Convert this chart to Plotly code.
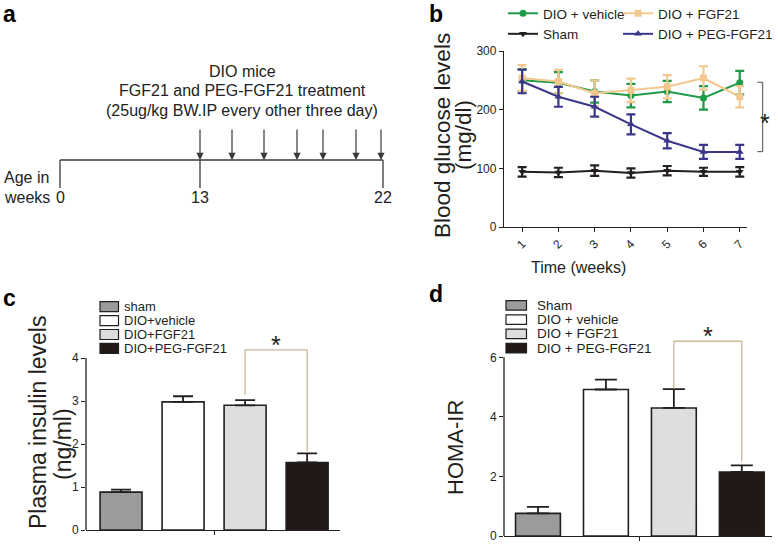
import plotly.graph_objects as go

FONT = "Liberation Sans, Arial, sans-serif"
INK = "#231f20"
W, H = 778, 547

# ---------------- Panel a: treatment schedule ----------------
timeline_labels = ["0", "13", "22"]
timeline_pos = [0, 140, 323]                      # schematic positions on the timeline
injection_pos = [140, 172, 204, 237, 263, 296, 321]
schedule_text = ["DIO mice", "FGF21 and PEG-FGF21 treatment",
                 "(25ug/kg BW.IP every other three day)"]

# ---------------- Panel b: blood glucose ----------------
weeks = [1, 2, 3, 4, 5, 6, 7]
vehicle = [250, 246, 231, 224, 231, 220, 246]
vehicle_err = [19, 18, 19, 20, 18, 20, 20]
fgf21 = [254, 248, 228, 233, 239, 254, 222]
fgf21_err = [22, 20, 22, 20, 20, 20, 18]
peg = [248, 222, 205, 175, 147, 128, 128]
peg_err = [20, 17, 17, 17, 13, 12, 12]
sham = [94, 93, 96, 92, 96, 94, 94]
sham_err = [8, 8, 9, 8, 8, 7, 8]

# ---------------- Panel c: plasma insulin ----------------
insulin_groups = ["sham", "DIO+vehicle", "DIO+FGF21", "DIO+PEG-FGF21"]
insulin = [0.88, 2.98, 2.90, 1.57]
insulin_err = [0.06, 0.13, 0.12, 0.21]

# ---------------- Panel d: HOMA-IR ----------------
homa_groups = ["Sham", "DIO + vehicle", "DIO + FGF21", "DIO + PEG-FGF21"]
homa = [0.76, 4.92, 4.30, 2.15]
homa_err = [0.22, 0.33, 0.63, 0.22]

bar_colors = ["#9b9b9b", "#ffffff", "#dedede", "#221816"]
line_colors = {"vehicle": "#1f9a48", "fgf21": "#f2c88e", "peg": "#3b3689", "sham": INK}
bracket_tan = "#c9b99b"


def px(p):
    return p / W


def py(p):
    return 1 - p / H


fig = go.Figure()

# ---- panel a traces (axes x / y, schematic units) ----
fig.add_trace(go.Scatter(x=[min(timeline_pos), max(timeline_pos)], y=[0, 0], mode="lines",
                         line=dict(color="#3a3a3a", width=1.3), showlegend=False,
                         hoverinfo="skip", xaxis="x", yaxis="y"))
tx, ty = [], []
for p in timeline_pos:
    tx += [p, p, None]
    ty += [0, -28, None]
fig.add_trace(go.Scatter(x=tx, y=ty, mode="lines", line=dict(color="#3a3a3a", width=1.3),
                         showlegend=False, hoverinfo="skip", xaxis="x", yaxis="y"))

annotations = []
for p in injection_pos:
    annotations.append(dict(x=p, y=0, ax=p, ay=32, xref="x", yref="y", axref="x", ayref="y",
                            showarrow=True, arrowhead=2, arrowsize=1.2, arrowwidth=1.2,
                            arrowcolor="#3a3a3a", text=""))
for lab, p in zip(timeline_labels, timeline_pos):
    annotations.append(dict(x=p, y=-37, xref="x", yref="y", text=lab, showarrow=False,
                            font=dict(size=16, color="#222", family=FONT)))
annotations.append(dict(x=-58, y=-17, xref="x", yref="y", text="Age in", showarrow=False,
                        xanchor="left", font=dict(size=16, color="#222", family=FONT)))
annotations.append(dict(x=-58, y=-37, xref="x", yref="y", text="weeks", showarrow=False,
                        xanchor="left", font=dict(size=16, color="#222", family=FONT)))
for i, t in enumerate(schedule_text):
    annotations.append(dict(x=182, y=89 - 19.5 * i, xref="x", yref="y", text=t, showarrow=False,
                            font=dict(size=16, color="#222", family=FONT)))

# ---- panel b traces ----
series = [
    ("DIO + vehicle", vehicle, vehicle_err, line_colors["vehicle"], "circle", "legend"),
    ("DIO + FGF21", fgf21, fgf21_err, line_colors["fgf21"], "square", "legend2"),
    ("DIO + PEG-FGF21", peg, peg_err, line_colors["peg"], "triangle-up", "legend2"),
    ("Sham", sham, sham_err, line_colors["sham"], "triangle-down", "legend"),
]
for name, vals, errs, col, sym, leg in series:
    fig.add_trace(go.Scatter(
        x=weeks, y=vals, name=name, mode="lines+markers",
        line=dict(color=col, width=2), marker=dict(symbol=sym, size=7, color=col),
        error_y=dict(type="data", array=errs, color=col, thickness=2.2, width=4.5),
        xaxis="x2", yaxis="y2", legend=leg))

shapes = []
# significance bracket panel b
shapes.append(dict(type="path", xref="x2 domain", yref="y2",
                   path="M1.0424,246.8 L1.0646,246.8 L1.0646,128.4 L1.0424,128.4",
                   line=dict(color="#4a4a4a", width=1)))
annotations.append(dict(x=1.1016, y=177, xref="x2 domain", yref="y2", text="*", showarrow=False,
                        font=dict(size=25, color=INK, family=FONT)))

# ---- panel c bars ----
pos = [0, 1, 2, 3]
fig.add_trace(go.Bar(x=pos, y=insulin, width=0.677, marker=dict(color=bar_colors,
                     line=dict(color=INK, width=1.6)),
                     error_y=dict(type="data", array=insulin_err, arrayminus=[0] * 4,
                                  symmetric=False, color=INK, thickness=1.8, width=10),
                     showlegend=False, xaxis="x3", yaxis="y3"))
fig.add_trace(go.Scatter(x=[2, 2, 3, 3],
                         y=[insulin[2] + insulin_err[2] + 0.12, 4.19, 4.19,
                            insulin[3] + insulin_err[3] + 0.05],
                         mode="lines", line=dict(color=bracket_tan, width=1.3),
                         showlegend=False, hoverinfo="skip", xaxis="x3", yaxis="y3"))
annotations.append(dict(x=2.5, y=4.31, xref="x3", yref="y3", text="*", showarrow=False,
                        font=dict(size=25, color=INK, family=FONT)))

# ---- panel d bars ----
fig.add_trace(go.Bar(x=pos, y=homa, width=0.66, marker=dict(color=bar_colors,
                     line=dict(color=INK, width=1.6)),
                     error_y=dict(type="data", array=homa_err, arrayminus=[0] * 4,
                                  symmetric=False, color=INK, thickness=1.8, width=11),
                     showlegend=False, xaxis="x4", yaxis="y4"))
fig.add_trace(go.Scatter(x=[2, 2, 3, 3],
                         y=[homa[2] + homa_err[2] + 0.02, 6.54, 6.54, homa[3] + homa_err[3] + 0.12],
                         mode="lines", line=dict(color=bracket_tan, width=1.3),
                         showlegend=False, hoverinfo="skip", xaxis="x4", yaxis="y4"))
annotations.append(dict(x=2.5, y=6.72, xref="x4", yref="y4", text="*", showarrow=False,
                        font=dict(size=25, color=INK, family=FONT)))

# y axis lines for c and d (stop at top tick)
shapes.append(dict(type="line", xref="x3 domain", yref="y3", x0=0, x1=0, y0=0, y1=4,
                   line=dict(color=INK, width=1.3)))
shapes.append(dict(type="line", xref="x4 domain", yref="y4", x0=0, x1=0, y0=0, y1=6,
                   line=dict(color=INK, width=1.3)))

# manual compact legends for c and d
def add_box_legend(groups, box_x0, box_x1, text_x, y0, step, bh, fsize):
    for i, g in enumerate(groups):
        yc = y0 + i * step
        shapes.append(dict(type="rect", xref="paper", yref="paper",
                           x0=px(box_x0), x1=px(box_x1), y0=py(yc + bh / 2), y1=py(yc - bh / 2),
                           fillcolor=bar_colors[i], line=dict(color=INK, width=1.2)))
        annotations.append(dict(x=px(text_x), y=py(yc), xref="paper", yref="paper", text=g,
                                showarrow=False, xanchor="left", yanchor="middle",
                                font=dict(size=fsize, color=INK, family=FONT)))


add_box_legend(insulin_groups, 100, 118.5, 122, 306.7, 13.9, 10, 13)
add_box_legend(homa_groups, 506, 526.5, 535, 305.3, 14.3, 9.5, 13.5)

# axis titles
def vtitle(text, x, y, size):
    annotations.append(dict(x=px(x), y=py(y), xref="paper", yref="paper", text=text,
                            textangle=-90, showarrow=False, xanchor="center", yanchor="middle",
                            font=dict(size=size, color=INK, family=FONT)))


vtitle("Blood glucose levels", 442, 135, 22.5)
vtitle("(mg/dl)", 463, 135, 22.5)
vtitle("Plasma insulin levels", 38, 423, 23)
vtitle("(ng/ml)", 63, 444, 23)
vtitle("HOMA-IR", 455, 447, 22)
annotations.append(dict(x=px(628), y=py(267), xref="paper", yref="paper", text="Time (weeks)",
                        showarrow=False, font=dict(size=16, color=INK, family=FONT)))

# panel letters
for letter, x, y in [("a", 1, 14), ("b", 427, 13.5), ("c", 1, 298), ("d", 427, 294)]:
    annotations.append(dict(x=px(x), y=py(y), xref="paper", yref="paper", text="<b>%s</b>" % letter,
                            showarrow=False, xanchor="left", yanchor="middle",
                            font=dict(size=23, color="#000", family=FONT)))

ax_common = dict(showgrid=False, zeroline=False, linecolor=INK, linewidth=1.3,
                 ticks="outside", ticklen=4, tickwidth=1.2, tickcolor=INK,
                 tickfont=dict(size=12, color=INK, family=FONT))

fig.update_layout(
    width=W, height=H, margin=dict(l=0, r=0, t=0, b=0, autoexpand=False),
    paper_bgcolor="white", plot_bgcolor="rgba(0,0,0,0)",
    font=dict(family=FONT, color=INK),
    xaxis=dict(domain=[0, 0.5], range=[-60, 329], visible=False, anchor="y"),
    yaxis=dict(domain=[py(246), 1], range=[-86, 160], visible=False, anchor="x"),
    xaxis2=dict(domain=[px(504), px(747)], range=[0.5, 7.2], tickvals=weeks, tickangle=-45,
                showline=True, anchor="y2", **ax_common),
    yaxis2=dict(domain=[py(227), py(51)], range=[0, 300], tickvals=[0, 100, 200, 300],
                showline=True, anchor="x2", **ax_common),
    xaxis3=dict(domain=[px(86), px(340)], range=[-0.565, 3.53], tickvals=[1.5], ticktext=[""],
                showline=True, anchor="y3", **ax_common),
    yaxis3=dict(domain=[py(530), py(530 - 4.45 * 43)], range=[0, 4.45], tickvals=[0, 1, 2, 3, 4],
                showline=False, anchor="x3", **ax_common),
    xaxis4=dict(domain=[px(504), px(771.7)], range=[-0.5, 3.44], tickvals=[1.5], ticktext=[""],
                showline=True, anchor="y4", **ax_common),
    yaxis4=dict(domain=[py(536), py(536 - 7.0 * 29.78)], range=[0, 7.0], tickvals=[0, 2, 4, 6],
                showline=False, anchor="x4", **ax_common),
    legend=dict(x=px(503), y=py(-2), xanchor="left", yanchor="top", bgcolor="rgba(0,0,0,0)",
                font=dict(size=13.5, color=INK, family=FONT), itemwidth=30, tracegroupgap=0),
    legend2=dict(x=px(618), y=py(-2), xanchor="left", yanchor="top", bgcolor="rgba(0,0,0,0)",
                 font=dict(size=13.5, color=INK, family=FONT), itemwidth=30, tracegroupgap=0),
    shapes=shapes, annotations=annotations, showlegend=True,
)

fig.write_html("out.html", config={"displayModeBar": False},
               post_script="document.body.style.margin='0';document.body.style.padding='0';")
